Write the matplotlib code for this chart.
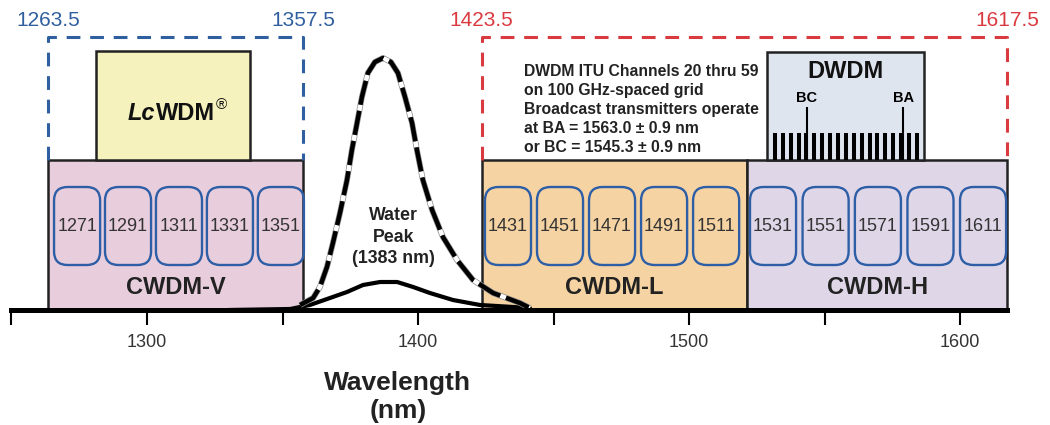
import numpy as np
import matplotlib.pyplot as plt
from matplotlib.patches import Rectangle, FancyBboxPatch
import matplotlib.patheffects as pe

plt.rcParams['font.family'] = ['Liberation Sans', 'DejaVu Sans']

# 波段 (nm)
band_names = ['CWDM-V', 'CWDM-L', 'CWDM-H']
band_lo = [1263.5, 1423.5, 1521.5]
band_hi = [1357.5, 1521.5, 1617.5]
band_colors = ['#e8cddc', '#f5d3a3', '#dfd6e8']

# CWDM 通道 (标称波长) 与图中绘制位置 (原图不按比例)
channels = [1271, 1291, 1311, 1331, 1351,
            1431, 1451, 1471, 1491, 1511,
            1531, 1551, 1571, 1591, 1611]
chan_pos = [1274.2, 1293.0, 1311.8, 1330.6, 1349.4,
            1433.2, 1452.4, 1471.6, 1490.8, 1510.0,
            1531.0, 1550.4, 1569.7, 1589.1, 1608.5]

# 虚线窗口
win_blue = [1263.5, 1357.5]
win_red = [1423.5, 1617.5]

# 水峰曲线 (nm, 相对高度)
peak_wl = [1356.5, 1361.3, 1363.8, 1366.4, 1368.6, 1371.2, 1373.8, 1375.6, 1377.5,
           1379.3, 1381.5, 1384.1, 1387.1, 1390.0, 1392.6, 1395.2, 1397.8, 1399.6,
           1401.8, 1405.2, 1409.2, 1414.4, 1420.3, 1427.7, 1437.6, 1441.3]
peak_hi = [5, 12, 23, 43, 67, 97, 130, 160, 187, 213, 237, 248, 252, 248, 237, 213,
           187, 160, 130, 100, 73, 50, 30, 17, 7, 2]
low_wl = [1330.0, 1352.8, 1360.1, 1367.5, 1373.8, 1379.7, 1386.0, 1392.3, 1398.2,
          1404.4, 1412.9, 1422.9, 1441.3]
low_hi = [0, 1, 5, 12, 18, 25, 28, 28, 23, 17, 10, 5, 2]

# DWDM 框
dwdm_lo, dwdm_hi = 1528.8, 1586.7
bc_pos, ba_pos = 1543.5, 1579.0
lc_lo, lc_hi = 1281.2, 1338.0

fig = plt.figure(figsize=(10.5, 4.25), dpi=100)
ax = fig.add_axes([0, 0, 1, 1])
ax.set_xlim(1245.76, 1633.2)
ax.set_ylim(-115, 310)

BOX_TOP = 150
for name, lo, hi, c in zip(band_names, band_lo, band_hi, band_colors):
    ax.add_patch(Rectangle((lo, 0), hi - lo, BOX_TOP, facecolor=c,
                           edgecolor='#222222', lw=1.8, zorder=1))
    ax.text((lo + hi) / 2, 22, name, ha='center', va='center', fontsize=17,
            weight='bold', color='#222222', zorder=4)

# 通道圆角框
for ch, pos in zip(channels, chan_pos):
    ax.add_patch(FancyBboxPatch((pos - 8.5, 45), 17, 78,
                                boxstyle='round,pad=0,rounding_size=5',
                                mutation_aspect=2.71, facecolor='none',
                                edgecolor='#2d5ea6', lw=1.7, zorder=3))
    ax.text(pos, 84, str(ch), ha='center', va='center', fontsize=13,
            color='#333333', zorder=4)

# 虚线窗口
for (lo, hi), col in [(win_blue, '#2f5f9f'), (win_red, '#d93a3f')]:
    ax.plot([lo, lo, hi, hi], [BOX_TOP, 273, 273, BOX_TOP], color=col, lw=2.2,
            ls=(0, (4.5, 3.2)), zorder=2)
    for v in (lo, hi):
        ax.text(v, 290, f'{v:.1f}', ha='center', va='center', fontsize=15, color=col)

# LcWDM 框
ax.add_patch(Rectangle((lc_lo, BOX_TOP), lc_hi - lc_lo, 109, facecolor='#f6f2be',
                       edgecolor='#222222', lw=1.8, zorder=1))
t1 = ax.text(1293.0, 190, 'Lc', ha='left', va='baseline', fontsize=17,
             weight='bold', style='italic', color='#111111')
t2 = ax.annotate('WDM', xy=(1, 0), xycoords=t1, ha='left', va='bottom',
                 fontsize=17, weight='bold', color='#111111')
ax.annotate('\u00ae', xy=(1, 1), xycoords=t2, xytext=(0.5, 3), textcoords='offset points',
            ha='left', va='top', fontsize=11, color='#111111')

# DWDM 框
ax.add_patch(Rectangle((dwdm_lo, BOX_TOP), dwdm_hi - dwdm_lo, 108,
                       facecolor='#dfe5ee', edgecolor='#222222', lw=1.8, zorder=1))
ax.vlines(np.linspace(1531.7, 1584.1, 19), BOX_TOP, 177, color='black', lw=2.9, zorder=2)
ax.vlines([bc_pos, ba_pos], BOX_TOP, 203, color='black', lw=1.5, zorder=2)
ax.text((dwdm_lo + dwdm_hi) / 2, 239, 'DWDM', ha='center', va='center',
        fontsize=17, weight='bold', color='#111111')
ax.text(bc_pos, 212, 'BC', ha='center', va='center', fontsize=10.5, weight='bold')
ax.text(ba_pos, 212, 'BA', ha='center', va='center', fontsize=10.5, weight='bold')

info = ('DWDM ITU Channels 20 thru 59\n'
        'on 100 GHz-spaced grid\n'
        'Broadcast transmitters operate\n'
        'at BA = 1563.0 \u00b1 0.9 nm\n'
        'or BC = 1545.3 \u00b1 0.9 nm')
ax.text(1439.1, 246, info, ha='left', va='top', fontsize=11.3, weight='bold',
        linespacing=1.33, color='#222222')

# 水峰
ax.plot(low_wl, low_hi, color='black', lw=3, solid_capstyle='round', zorder=2.2)
ax.plot(peak_wl, peak_hi, color='black', lw=3.2, ls=(0, (5.5, 1.4)), gapcolor='white',
        zorder=2.3, path_effects=[pe.Stroke(linewidth=4.2, foreground='#8a8a8a'), pe.Normal()])
ax.text(1391.1, 73, 'Water\nPeak\n(1383 nm)', ha='center', va='center', fontsize=12.8,
        weight='bold', linespacing=1.35, color='#222222')

# 坐标轴
for s in ('top', 'left', 'right'):
    ax.spines[s].set_visible(False)
ax.spines['bottom'].set_position(('data', 0))
ax.spines['bottom'].set_bounds(1250, 1617.5)
ax.spines['bottom'].set_linewidth(3.6)
ticks = np.arange(1250, 1601, 50)
ax.set_xticks(ticks, [str(t) if t % 100 == 0 else '' for t in ticks])
ax.tick_params(axis='x', length=11, width=1.5, pad=6, labelsize=13,
               labelcolor='#333333')
ax.set_yticks([])

ax.text(1392.6, -73, 'Wavelength', ha='center', va='center', fontsize=19,
        weight='bold', color='#222222')
ax.text(1392.6, -101, '(nm)', ha='center', va='center', fontsize=19,
        weight='bold', color='#222222')

fig.savefig('out.png', dpi=100, facecolor='white')
